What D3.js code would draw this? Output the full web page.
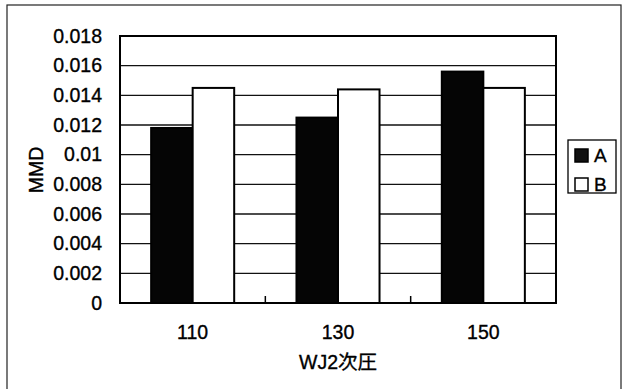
<!DOCTYPE html>
<html>
<head>
<meta charset="utf-8">
<script src="https://cdn.jsdelivr.net/npm/d3@7"></script>
<style>
  html, body { margin: 0; padding: 0; background: #fff; }
  svg { display: block; }
  text { font-family: "Liberation Sans", Arial, "Noto Sans CJK JP", sans-serif; fill: #000; stroke: #000; stroke-width: 0.35; }
</style>
</head>
<body>
<svg id="chart" width="624" height="389"></svg>
<script>
// Categories (WJ2次圧) and the two series of MMD values
const categories = ["110", "130", "150"];
const seriesNames = ["A", "B"];
const valuesA = [0.0118, 0.0125, 0.0156];
const valuesB = [0.0145, 0.0144, 0.0145];
const yTicks = [0, 0.002, 0.004, 0.006, 0.008, 0.01, 0.012, 0.014, 0.016, 0.018];
const yTickLabels = ["0", "0.002", "0.004", "0.006", "0.008", "0.01", "0.012", "0.014", "0.016", "0.018"];
const xTitle = "WJ2次圧";
const yTitle = "MMD";

const svg = d3.select("#chart");
const plot = { left: 120, top: 36, right: 556, bottom: 303 };
const fontSize = 19.5;

// Outer chart frame
svg.append("rect")
  .attr("x", 7).attr("y", 5).attr("width", 614).attr("height", 400)
  .attr("fill", "none").attr("stroke", "#222").attr("stroke-width", 1.2);

const y = d3.scaleLinear().domain([0, 0.018]).range([plot.bottom, plot.top]);
const x0 = d3.scaleBand().domain(categories).range([plot.left, plot.right]).padding(0);
const x1 = d3.scaleBand().domain(seriesNames).range([0, x0.bandwidth()])
  .paddingInner(0).paddingOuter(0.75);

// Horizontal gridlines
svg.append("g")
  .selectAll("line")
  .data(yTicks.filter(t => t > 0 && t < 0.018))
  .join("line")
  .attr("x1", plot.left).attr("x2", plot.right)
  .attr("y1", d => y(d)).attr("y2", d => y(d))
  .attr("stroke", "#111").attr("stroke-width", 1.4);

// Bars
const rows = categories.map((c, i) => ({ cat: c, A: valuesA[i], B: valuesB[i] }));
const groups = svg.append("g").selectAll("g")
  .data(rows).join("g")
  .attr("transform", d => `translate(${x0(d.cat)},0)`);

groups.selectAll("rect")
  .data(d => seriesNames.map(s => ({ s, v: d[s] })))
  .join("rect")
  .attr("x", d => x1(d.s))
  .attr("width", x1.bandwidth())
  .attr("y", d => y(d.v))
  .attr("height", d => y(0) - y(d.v))
  .attr("fill", d => d.s === "A" ? "#050505" : "#fff")
  .attr("stroke", "#000")
  .attr("stroke-width", 2);

// Plot-area border
svg.append("rect")
  .attr("x", plot.left).attr("y", plot.top)
  .attr("width", plot.right - plot.left).attr("height", plot.bottom - plot.top)
  .attr("fill", "none").attr("stroke", "#000").attr("stroke-width", 2);

// Category-boundary ticks on the x axis (pointing into the plot)
svg.append("g")
  .selectAll("line")
  .data(categories.slice(1))
  .join("line")
  .attr("x1", d => x0(d)).attr("x2", d => x0(d))
  .attr("y1", plot.bottom).attr("y2", plot.bottom - 7)
  .attr("stroke", "#000").attr("stroke-width", 1.5);

// Y tick labels
svg.append("g")
  .selectAll("text")
  .data(yTicks)
  .join("text")
  .attr("x", 102)
  .attr("y", d => y(d))
  .attr("dy", "0.35em")
  .attr("text-anchor", "end")
  .attr("font-size", fontSize)
  .text((d, i) => yTickLabels[i]);

// X tick labels
svg.append("g")
  .selectAll("text")
  .data(categories)
  .join("text")
  .attr("x", d => x0(d) + x0.bandwidth() / 2)
  .attr("y", 332)
  .attr("dy", "0.35em")
  .attr("text-anchor", "middle")
  .attr("font-size", fontSize)
  .text(d => d);

// Axis titles
svg.append("text")
  .attr("x", (plot.left + plot.right) / 2)
  .attr("y", 362)
  .attr("dy", "0.35em")
  .attr("text-anchor", "middle")
  .attr("font-size", fontSize)
  .style("font-family", "'Liberation Sans', 'Noto Sans CJK JP', sans-serif")
  .text(xTitle);

svg.append("text")
  .attr("transform", "translate(36,170) rotate(-90)")
  .attr("dy", "0.35em")
  .attr("text-anchor", "middle")
  .attr("font-size", fontSize)
  .text(yTitle);

// Legend
const legend = svg.append("g").attr("transform", "translate(568,140)");
legend.append("rect")
  .attr("width", 48).attr("height", 53)
  .attr("fill", "#fff").attr("stroke", "#000").attr("stroke-width", 1.3);
const items = legend.selectAll("g.item")
  .data(seriesNames).join("g")
  .attr("class", "item")
  .attr("transform", (d, i) => `translate(7,${9 + i * 29})`);
items.append("rect")
  .attr("width", 13).attr("height", 13)
  .attr("fill", d => d === "A" ? "#111" : "#fff")
  .attr("stroke", "#000").attr("stroke-width", 1.5);
items.append("text")
  .attr("x", 19).attr("y", 6.5)
  .attr("dy", "0.35em")
  .attr("font-size", 19)
  .text(d => d);
</script>
</body>
</html>
